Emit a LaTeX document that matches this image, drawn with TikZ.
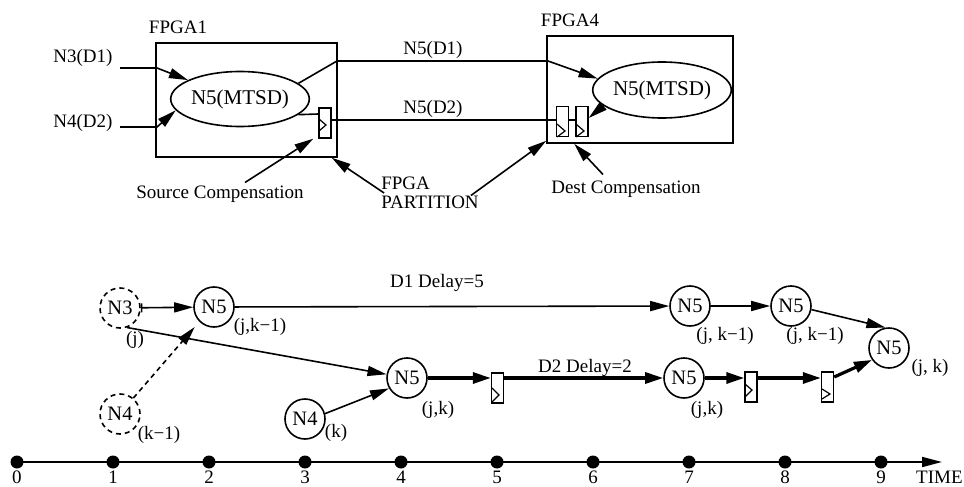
\documentclass[tikz,border=0pt]{standalone}
\usepackage{fontspec}
\setmainfont{Liberation Serif}
\usetikzlibrary{arrows.meta,shapes.geometric}
\begin{document}
\begin{tikzpicture}[x=1pt,y=-1pt,
  font=\fontsize{19}{21}\selectfont,
  ln/.style={line width=1.6pt},
  thk/.style={line width=3.2pt},
  arr/.style={-{Triangle[length=19pt,width=10pt]}},
  tarr/.style={-{Triangle[length=18pt,width=11pt]}},
  nd/.style={circle,draw,line width=1.6pt,minimum size=40pt,inner sep=0pt,font=\fontsize{20.5}{22}\selectfont},
  dnd/.style={nd,dash pattern=on 5pt off 4pt},
  reg/.style={draw,line width=1.4pt,minimum width=12pt,minimum height=30pt,inner sep=0pt},
  clk/.style={line width=1.2pt},
  lbl/.style={inner sep=0pt},
  dot/.style={circle,fill,minimum size=13pt,inner sep=0pt},
  fbox/.style={draw,line width=1.6pt,inner sep=0pt},
  ell/.style={ellipse,draw,line width=1.6pt,inner sep=0pt,font=\fontsize{21}{23}\selectfont}
]
\useasboundingbox (0,0) rectangle (964,487);
% ---------- top part ----------
\node[fbox,minimum width=181pt,minimum height=114pt] (b1) at (246.5,100) {};
\node[fbox,minimum width=186pt,minimum height=107pt] (b4) at (640,89.5) {};
\node[lbl] (fpga1) at (178,27) {FPGA1};
\node[lbl] (fpga4) at (570,20) {FPGA4};
\node[ell,minimum width=125pt,minimum height=55pt] (e1) at (240,99) {N5(MTSD)};
\node[ell,minimum width=129pt,minimum height=56pt] (e4) at (662,90) {N5(MTSD)};
\node[lbl] (n3d1) at (83,58) {N3(D1)};
\node[lbl] (n4d2) at (83,123) {N4(D2)};
\node[reg] (sr) at (325,123) {};
\node[reg] (dr1) at (562.5,121.5) {};
\node[reg] (dr2) at (582,121.5) {};
\draw[clk] (319,119) -- (326,125) -- (319,131);
\draw[clk] (557,124) -- (565,131) -- (557,137);
\draw[clk] (576,124) -- (584,131) -- (576,137);
\node[lbl] (n5d1) at (433,50) {N5(D1)};
\node[lbl] (n5d2) at (433,109) {N5(D2)};
\node[lbl] (sc) at (220,194) {Source Compensation};
\node[lbl] (dc) at (626,189) {Dest Compensation};
\node[lbl,align=left,font=\fontsize{19}{18.5}\selectfont] (fp) at (430,193) {FPGA\\PARTITION};
\coordinate (a1) at (120,68);
\coordinate (a1k) at (157,68);
\coordinate (a2) at (120,127);
\coordinate (a2k) at (157,127);
\coordinate (k3) at (337,61);
\coordinate (k4) at (548,61);
\draw[ln,arr] (a1) -- (a1k) -- (e1.160);
\draw[ln,arr] (a2) -- (a2k) -- (e1.190);
\draw[ln,arr] (e1.15) -- (k3) -- (k4) -- (e4.170);
\draw[ln] (e1.-15) -- ([yshift=9pt]sr.west);
\draw[ln] ([yshift=3pt]sr.east) -- ([yshift=1.5pt]dr1.west);
\draw[ln] ([yshift=1.5pt]dr1.east) -- ([yshift=1.5pt]dr2.west);
\draw[ln,arr] (e4.195) -- ([yshift=3.5pt]dr2.east);
\draw[ln,arr] ([xshift=25pt,yshift=3pt]sc.north) -- ([xshift=-5pt]sr.south west);
\draw[ln,arr] ([xshift=3pt]fp.west) -- ([xshift=-6pt]b1.south east);
\draw[ln,arr] ([xshift=-8pt,yshift=-2.5pt]fp.east) -- ([yshift=3pt]b4.south west);
\draw[ln,arr] ([xshift=-23pt,yshift=6pt]dc.north) -- ([xshift=28pt]b4.south west);
% ---------- bottom part ----------
\node[dnd] (n3) at (120,308) {N3};
\node[nd] (n5a) at (214,307) {N5};
\node[dnd] (n4a) at (120,414) {N4};
\node[nd] (n5b) at (407,378) {N5};
\node[nd] (n4b) at (305,419) {N4};
\node[reg] (ra) at (497.5,388) {};
\node[nd] (n5c) at (684,378) {N5};
\node[reg] (rb) at (751,387) {};
\node[reg] (rc) at (827.5,387) {};
\node[nd] (n5d) at (690,306) {N5};
\node[nd] (n5e) at (791,306) {N5};
\node[nd] (n5f) at (889,348) {N5};
\draw[clk] (492,388) -- (499,395) -- (492,402);
\draw[clk] (745,384) -- (752,390) -- (745,397);
\draw[clk] (822,389) -- (830,394) -- (822,399);
\node[lbl] (lj) at (135,340) {(j)};
\node[lbl] (ljk1) at (260,327) {(j,k−1)};
\node[lbl] (lk1) at (159,435) {(k−1)};
\node[lbl] (ljk) at (438,410) {(j,k)};
\node[lbl] (lk) at (336,433) {(k)};
\node[lbl] (d1) at (437,283) {D1 Delay=5};
\node[lbl] (d2) at (585,368) {D2 Delay=2};
\node[lbl] (ljk1b) at (725,336) {(j, k−1)};
\node[lbl] (ljk1c) at (815,336) {(j, k−1)};
\node[lbl] (ljkc) at (707,410) {(j,k)};
\node[lbl] (ljkf) at (930,368) {(j, k)};
\draw[ln,{Bar[width=9pt]}-{Triangle[length=19pt,width=10pt]}] (n3) -- (n5a);
\draw[ln,dash pattern=on 5pt off 4pt,arr,shorten >=7pt] (n4a.50) -- (n5a.225);
\draw[ln,arr] (n3.-70) -- (n5b);
\draw[ln,arr] (n4b.15) -- (n5b.210);
\draw[thk,tarr] (n5b) -- ([yshift=10pt]ra.west);
\draw[thk,tarr] ([yshift=10pt]ra.east) -- (n5c);
\draw[thk,tarr] (n5c) -- ([yshift=9pt]rb.west);
\draw[thk,tarr] ([yshift=9pt]rb.east) -- ([yshift=9pt]rc.west);
\draw[thk,tarr] ([yshift=10pt]rc.east) -- (n5f.215);
\draw[ln,arr] (n5a) -- (n5d);
\draw[ln,arr] (n5d) -- (n5e);
\draw[ln,arr] (n5e.-10) -- (n5f.100);
% ---------- time axis ----------
\foreach \i in {0,...,9} {
  \node[dot] (t\i) at ({17+96*\i},462) {};
  \node[lbl] (tl\i) at ({17+96*\i},477) {\i};
}
\coordinate (tend) at (942,462);
\draw[line width=1.8pt,-{Triangle[length=20pt,width=10pt]}] (t0.center) -- (tend);
\node[lbl,anchor=west] (time) at (916,477) {TIME};
\end{tikzpicture}
\end{document}
